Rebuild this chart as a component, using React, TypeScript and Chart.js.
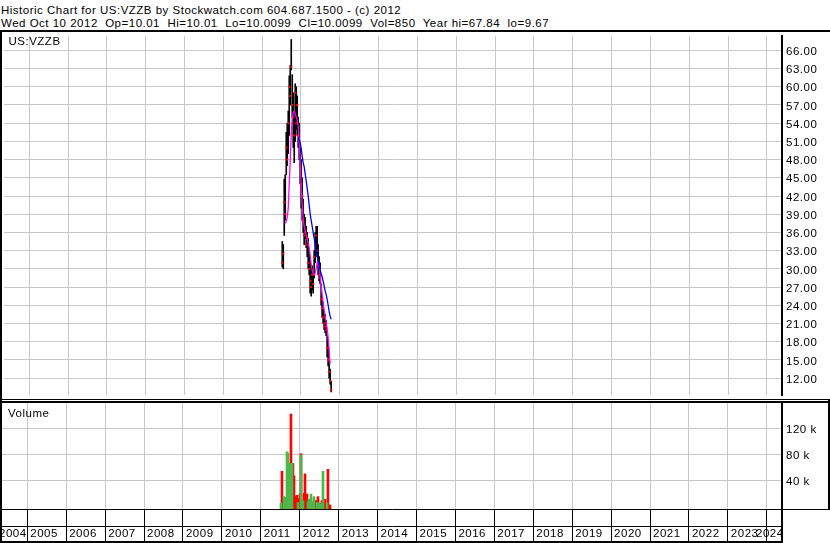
import React, { useEffect, useRef } from 'react';
import { Chart, registerables } from 'chart.js';

Chart.register(...registerables);

// ---------- text ----------
const TITLE = 'Historic Chart for US:VZZB by Stockwatch.com 604.687.1500 - (c) 2012';
const SUBTITLE = 'Wed Oct 10 2012  Op=10.01  Hi=10.01  Lo=10.0099  Cl=10.0099  Vol=850  Year hi=67.84  lo=9.67';
const SYMBOL = 'US:VZZB';
const VOLUME_LABEL = 'Volume';

// ---------- axes ----------
const X_MIN = 2004.35;
const X_MAX = 2024.391;
const YEARS = [2004, 2005, 2006, 2007, 2008, 2009, 2010, 2011, 2012, 2013, 2014, 2015, 2016, 2017, 2018, 2019, 2020, 2021, 2022, 2023, 2024];
const PRICE_MIN = 9.21;
const PRICE_MAX = 68.37;
const PRICE_TICKS = [12, 15, 18, 21, 24, 27, 30, 33, 36, 39, 42, 45, 48, 51, 54, 57, 60, 63, 66];
const VOL_MIN = -4000;
const VOL_MAX = 159000;
const VOL_TICKS = [40000, 80000, 120000];

// ---------- data (fractional years, roughly weekly samples) ----------
const DATES = [
  2011.518, 2011.544, 2011.569, 2011.595, 2011.621, 2011.646, 2011.672, 2011.698, 2011.724, 2011.749,
  2011.775, 2011.801, 2011.826, 2011.852, 2011.878, 2011.903, 2011.929, 2011.955, 2011.980, 2012.006,
  2012.032, 2012.057, 2012.083, 2012.109, 2012.135, 2012.160, 2012.186, 2012.212, 2012.237, 2012.263,
  2012.289, 2012.314, 2012.340, 2012.366, 2012.391, 2012.417, 2012.443, 2012.468, 2012.494, 2012.520,
  2012.545, 2012.571, 2012.597, 2012.622, 2012.648, 2012.674, 2012.700, 2012.725, 2012.751, 2012.777,
];
const LOW = [
  30.3, 30.0, 35.5, 38.0, 45.5, 47.0, 49.0, 52.0, 57.0, 62.8,
  55.0, 50.0, 47.5, 51.0, 53.0, 52.0, 50.0, 48.0, 44.0, 40.0,
  38.0, 36.0, 34.0, 35.0, 33.5, 32.0, 30.0, 29.0, 26.0, 25.5,
  26.5, 26.0, 28.5, 31.0, 33.0, 32.0, 29.0, 28.0, 27.5, 24.0,
  22.0, 21.0, 20.0, 19.5, 19.0, 15.5, 14.0, 12.0, 11.0, 9.7,
];
const HIGH = [
  34.5, 34.0, 44.8, 45.5, 52.5, 54.0, 56.0, 61.8, 63.5, 67.8,
  62.0, 59.0, 56.0, 60.5, 60.0, 58.5, 55.0, 54.0, 50.0, 48.0,
  45.0, 41.5, 39.0, 38.5, 37.0, 36.0, 35.0, 33.0, 31.5, 30.0,
  30.5, 29.5, 33.0, 36.0, 37.0, 37.0, 34.0, 32.0, 31.0, 27.5,
  25.5, 24.5, 23.0, 22.5, 21.5, 19.0, 17.5, 15.0, 13.5, 11.5,
];
const CLOSE = [
  31.0, 32.5, 41.0, 39.0, 50.0, 48.0, 54.0, 60.0, 58.5, 63.3,
  57.0, 55.0, 52.0, 59.0, 54.0, 57.0, 52.0, 51.0, 47.0, 44.0,
  42.0, 38.0, 35.5, 36.0, 34.0, 35.0, 31.0, 30.0, 28.0, 27.0,
  29.0, 27.5, 32.0, 34.0, 35.5, 33.0, 30.5, 29.0, 28.5, 25.0,
  23.5, 22.0, 21.0, 20.5, 20.0, 17.0, 15.0, 13.0, 11.5, 10.0,
];
const MA_SHORT = [
  null, null, null, 37.5, 37.8, 38.5, 40.0, 44.0, 48.0, 52.0,
  55.0, 55.8, 56.0, 55.5, 55.0, 54.5, 53.5, 51.0, 47.5, 43.5,
  40.5, 38.3, 37.0, 36.2, 35.6, 35.0, 34.2, 33.5, 32.2, 30.8,
  29.8, 29.2, 29.0, 29.3, 30.0, 31.0, 31.3, 30.5, 28.8, 27.2,
  25.8, 24.4, 23.2, 22.2, 21.2, 20.2, 18.7, 16.7, 14.3, null,
];
const MA_LONG = [
  null, null, null, null, null, null, null, null, null, null,
  null, null, null, null, null, null, 51.5, 51.2, 50.8, 49.8,
  48.5, 47.5, 46.8, 45.6, 44.5, 43.3, 42.0, 40.5, 39.0, 38.0,
  37.0, 36.0, 35.0, 34.0, 33.0, 32.0, 31.3, 30.5, 29.8, 29.2,
  28.7, 28.0, 27.2, 26.4, 25.8, 25.0, 24.0, 23.0, 22.2, 21.7,
];
const VOL_UP = [
  5000, null, null, 15000, 14000, null, 84000, 82000, 50000, 66000,
  null, 66000, null, null, null, null, null, 6000, null, null,
  79000, 11000, 8000, null, null, null, null, 7000, 11000, null,
  19000, null, 8000, 15000, null, null, 6000, null, 5000, null,
  4000, null, 54000, null, null, null, 5000, null, null, null,
];
const VOL_DOWN = [
  null, 54000, null, null, null, 5000, null, null, null, null,
  142000, null, 66000, 47000, 15000, 10000, 17000, null, 12000, 19000,
  81000, null, null, 20000, 50000, 9000, 19000, null, null, 6000,
  null, 5000, null, null, 4000, 9000, null, 15000, null, 5000,
  null, 9000, null, 6000, 11000, null, null, 57000, null, 2000,
];
const VOL_FLAT = [
  null, null, 3000, null, null, null, null, null, null, null,
  null, null, null, null, null, null, null, null, null, null,
  null, null, null, null, null, null, null, null, null, null,
  null, null, null, null, null, null, null, null, null, null,
  null, null, null, null, null, 4000, null, null, 3000, null,
];

// ---------- styles ----------
const FONT_FAMILY = '"Liberation Sans", Arial, sans-serif';
const FONT_SIZE = 11.5;
const GRID = '#c8c8c8';
const LETTER = '0.5px';

const spacingPlugin = {
  id: 'letterSpacing',
  beforeLayout(chart: any) { try { chart.ctx.letterSpacing = LETTER; } catch (e) {} },
  beforeDraw(chart: any) { try { chart.ctx.letterSpacing = LETTER; } catch (e) {} },
};

const noPad = (s: any) => { s.paddingLeft = 0; s.paddingRight = 0; s.paddingTop = 0; s.paddingBottom = 0; };
const yearTicks = (a: any) => { a.ticks = YEARS.filter((y) => y >= a.min && y <= a.max).map((v) => ({ value: v })); };

function pts(vals: (number | null)[]) {
  return DATES.map((d, i) => ({ x: d, y: vals[i] })).filter((p) => p.y !== null && p.y !== undefined);
}
function volBars(vals: (number | null)[]) {
  return DATES.map((d, i) => ({ x: d, y: vals[i] === null ? null : [VOL_MIN, vals[i]] })).filter((p) => p.y !== null);
}

export default function App() {
  const priceRef = useRef<HTMLCanvasElement>(null);
  const volRef = useRef<HTMLCanvasElement>(null);

  useEffect(() => {
    Chart.defaults.font.family = FONT_FAMILY;
    Chart.defaults.font.size = FONT_SIZE;
    Chart.defaults.color = '#000';

    const price = new Chart(priceRef.current!, {
      type: 'bar',
      data: {
        datasets: [
          { type: 'line', label: 'MA long', data: pts(MA_LONG), borderColor: '#0000ff', borderWidth: 1.3, pointRadius: 0, tension: 0, order: 0 } as any,
          { type: 'line', label: 'MA short', data: pts(MA_SHORT), borderColor: '#ff00ff', borderWidth: 1.3, pointRadius: 0, tension: 0, order: 1 } as any,
          { type: 'line', label: 'Close', data: pts(CLOSE), showLine: false, pointStyle: 'rect', pointRadius: 1.5, backgroundColor: '#ff0000', borderWidth: 0, order: 2 } as any,
          { type: 'bar', label: 'Range', data: DATES.map((d, i) => ({ x: d, y: [LOW[i], HIGH[i]] })), backgroundColor: '#000000', barThickness: 1, grouped: false, order: 3 } as any,
        ],
      },
      options: {
        animation: false,
        responsive: false,
        events: [],
        layout: { padding: { left: 2, right: 0, top: 0, bottom: 0 } },
        plugins: { legend: { display: false }, tooltip: { enabled: false } },
        scales: {
          x: {
            type: 'linear', min: X_MIN, max: X_MAX, offset: false,
            grid: { color: GRID, drawTicks: false, offset: false },
            border: { display: false },
            ticks: { display: false },
            afterBuildTicks: yearTicks,
            afterFit: (s: any) => { s.height = 0; noPad(s); },
          },
          y: {
            position: 'right', min: PRICE_MIN, max: PRICE_MAX, beginAtZero: false,
            grid: { color: GRID, drawTicks: false },
            border: { color: '#000', width: 2 },
            ticks: { padding: 4, labelOffset: 1.5, color: '#000', autoSkip: false, callback: (v: any) => Number(v).toFixed(2) },
            afterBuildTicks: (a: any) => { a.ticks = PRICE_TICKS.map((v) => ({ value: v })); },
            afterFit: (s: any) => { s.width = 48; noPad(s); },
          },
        },
      } as any,
      plugins: [spacingPlugin],
    });

    const volume = new Chart(volRef.current!, {
      type: 'bar',
      data: {
        datasets: [
          { label: 'Up', data: volBars(VOL_UP), backgroundColor: '#4cb84c', barThickness: 2, grouped: false, order: 0 } as any,
          { label: 'Down', data: volBars(VOL_DOWN), backgroundColor: '#ff0000', barThickness: 2, grouped: false, order: 1 } as any,
          { label: 'Flat', data: volBars(VOL_FLAT), backgroundColor: '#a8a8a8', barThickness: 2, grouped: false, order: 2 } as any,
        ],
      },
      options: {
        animation: false,
        responsive: false,
        events: [],
        layout: { padding: { left: 2, right: 0, top: 0, bottom: 0 } },
        plugins: { legend: { display: false }, tooltip: { enabled: false } },
        scales: {
          x: {
            type: 'linear', position: 'bottom', weight: 0, min: X_MIN, max: X_MAX, offset: false,
            grid: { color: GRID, tickColor: '#000', drawTicks: true, tickLength: 34, offset: false },
            border: { display: true, color: '#000', width: 1 },
            ticks: { display: false },
            afterBuildTicks: yearTicks,
            afterFit: (s: any) => { s.height = 17; noPad(s); },
          },
          xl: {
            type: 'linear', position: 'bottom', weight: 1, min: X_MIN, max: X_MAX, offset: false,
            grid: { display: false, drawTicks: false },
            border: { display: true, color: '#000', width: 1 },
            ticks: {
              display: true, autoSkip: false, maxRotation: 0, minRotation: 0, padding: 1,
              align: 'start', labelOffset: 3, color: '#000',
              callback: (_v: any, i: number) => String(YEARS[i]),
            },
            afterBuildTicks: (a: any) => {
              const ppy = a.width / (a.max - a.min);
              a.ticks = YEARS.map((y) => ({ value: Math.min(Math.max(y, a.min - 6 / ppy), a.max - 29 / ppy) }));
            },
            afterFit: (s: any) => { s.height = 17; noPad(s); },
          },
          y: {
            position: 'right', min: VOL_MIN, max: VOL_MAX, beginAtZero: false,
            grid: { color: GRID, drawTicks: false },
            border: { color: '#000', width: 2 },
            ticks: { padding: 4, labelOffset: 1, color: '#000', autoSkip: false, callback: (v: any) => `${Number(v) / 1000} k` },
            afterBuildTicks: (a: any) => { a.ticks = VOL_TICKS.map((v) => ({ value: v })); },
            afterFit: (s: any) => { s.width = 48; noPad(s); },
          },
        },
      } as any,
      plugins: [spacingPlugin],
    });

    return () => { price.destroy(); volume.destroy(); };
  }, []);

  const abs = (l: number, t: number, w: number, h: number, extra: any = {}) => ({ position: 'absolute' as const, left: l, top: t, width: w, height: h, ...extra });
  const text = { fontFamily: FONT_FAMILY, fontSize: FONT_SIZE, letterSpacing: LETTER, color: '#000', whiteSpace: 'pre' as const, lineHeight: '13px' };

  return (
    <div style={abs(0, 0, 830, 543, { background: '#fff', overflow: 'hidden' })}>
      <div style={{ position: 'absolute', left: 1, top: 4, ...text }}>{TITLE}</div>
      <div style={{ position: 'absolute', left: 1, top: 17, ...text }}>{SUBTITLE}</div>
      <canvas ref={priceRef} width={830} height={367} style={abs(0, 32, 830, 367, { display: 'block' })} />
      <canvas ref={volRef} width={830} height={140} style={abs(0, 403, 830, 140, { display: 'block' })} />
      <div style={{ position: 'absolute', left: 8.5, top: 35, ...text }}>{SYMBOL}</div>
      <div style={{ position: 'absolute', left: 8, top: 407, ...text }}>{VOLUME_LABEL}</div>
      {/* frame lines */}
      <div style={abs(0, 30, 830, 2, { background: '#000' })} />
      <div style={abs(0, 30, 2, 513, { background: '#000' })} />
      <div style={abs(0, 399, 830, 1, { background: '#000' })} />
      <div style={abs(0, 401, 830, 2, { background: '#000' })} />
      <div style={abs(828, 399, 2, 111, { background: '#000' })} />
      <div style={abs(782, 509, 48, 1, { background: '#000' })} />
      <div style={abs(781, 509, 2, 34, { background: '#000' })} />
      <div style={abs(0, 541, 783, 2, { background: '#000' })} />
    </div>
  );
}
